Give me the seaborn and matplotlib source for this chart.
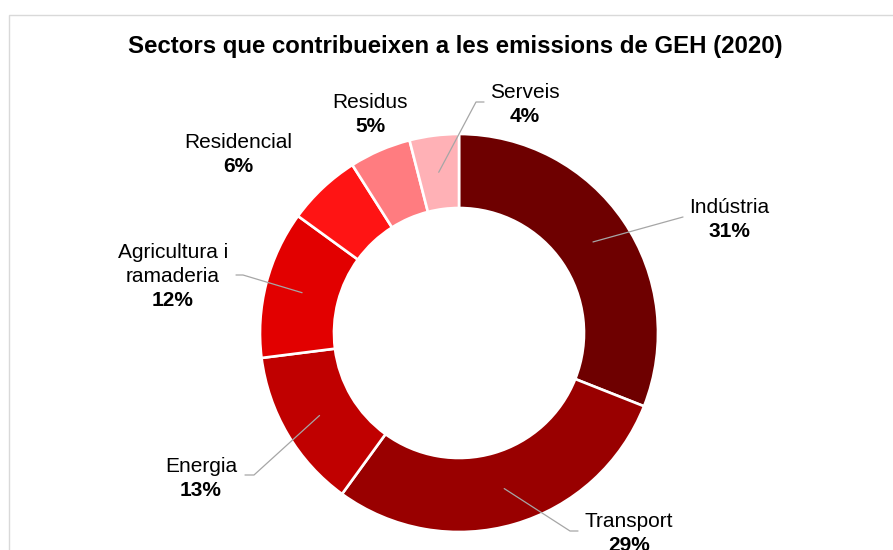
import numpy as np
import matplotlib
matplotlib.use("Agg")
import matplotlib.pyplot as plt
from matplotlib.patches import Rectangle
import seaborn as sns

# data (share of emissions, %)
sectors = ["Indústria", "Transport", "Energia", "Agricultura i\nramaderia",
           "Residencial", "Residus", "Serveis"]
shares = [31, 29, 13, 12, 6, 5, 4]
colors = ["#6E0000", "#990000", "#C00000", "#E20000", "#FF1414", "#FF7C80", "#FFB1B6"]

sns.set_theme(style="white")
plt.rcParams['font.family'] = ['Liberation Sans', 'DejaVu Sans']

W, H = 893, 550
fig = plt.figure(figsize=(W / 100, H / 100), dpi=100)
ax = fig.add_axes([0, 0, 1, 1])

# pixel-like coordinates (y measured from top)
def py(y):
    return H - y

cx, cy, r_out, r_in = 459, 333, 199, 125

wedges, _ = ax.pie(shares, colors=colors, startangle=90, counterclock=False,
                   radius=r_out, center=(cx, py(cy)),
                   wedgeprops=dict(width=r_out - r_in, edgecolor="white", linewidth=1.9))

ax.add_patch(Rectangle((9, -20), W, py(15) + 20, fill=False, edgecolor="#D9D9D9", lw=1))

ax.text(455.5, py(53), "Sectors que contribueixen a les emissions de GEH (2020)",
        ha="center", va="baseline", fontsize=17.3, fontweight="bold", color="black")

# label placement: (center x, first baseline y) and leader elbow/end (None = no leader)
label_pos = {
    "Indústria": (729, 213, [(683, 217)]),
    "Transport": (629, 527, [(570, 531), (578, 531)]),
    "Energia": (201, 472, [(254, 475), (245, 475)]),
    "Agricultura i\nramaderia": (173, 258, [(243, 275), (236, 275)]),
    "Residencial": (238, 148, None),
    "Residus": (370, 108, None),
    "Serveis": (525, 98, [(476, 102), (484, 102)]),
}
line_h = 24
r_mid = (r_out + r_in) / 2

for w, name, val in zip(wedges, sectors, shares):
    x, yb, leader = label_pos[name]
    lines = name.split("\n")
    for i, ln in enumerate(lines):
        ax.text(x, py(yb + i * line_h), ln, ha="center", va="baseline",
                fontsize=15, color="black")
    ax.text(x, py(yb + len(lines) * line_h), f"{val}%", ha="center", va="baseline",
            fontsize=15, fontweight="bold", color="black")
    if leader:
        th = np.deg2rad((w.theta1 + w.theta2) / 2)
        xs = [cx + r_mid * np.cos(th)] + [p[0] for p in leader]
        ys = [py(cy) + r_mid * np.sin(th)] + [py(p[1]) for p in leader]
        ax.plot(xs, ys, color="#A6A6A6", lw=0.9)

ax.set_xlim(0, W)
ax.set_ylim(0, H)
ax.set_aspect("equal")
ax.axis("off")

fig.savefig("out.png", dpi=100)
